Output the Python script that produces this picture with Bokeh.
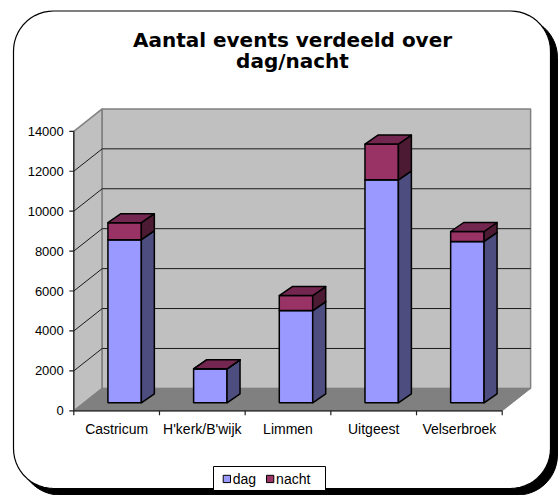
import numpy as np
from bokeh.plotting import figure
from bokeh.models import Range1d
from bokeh.embed import file_html
from bokeh.resources import INLINE
from bokeh.core.properties import value

# ---------------- data ----------------
categories = ["Castricum", "H'kerk/B'wijk", "Limmen", "Uitgeest", "Velserbroek"]
series_names = ["dag", "nacht"]
dag = [8170, 1700, 4620, 11170, 8080]
nacht = [850, 0, 750, 1790, 500]
y_ticks = [0, 2000, 4000, 6000, 8000, 10000, 12000, 14000]
y_tick_labels = ["0", "2000", "4000", "6000", "8000", "10000", "12000", "14000"]
title_lines = ["Aantal events verdeeld over", "dag/nacht"]

# ---------------- styles ----------------
front_colors = ["#9999FF", "#993366"]
side_colors = ["#4D4D80", "#4D1A33"]
top_colors = ["#7A7ACC", "#73264F"]

W, H = 559, 495
Y_MAX = y_ticks[-1]
N = len(categories)

# pixel layout of the plotting box (canvas pixels)
X0, CW = 73.3, 85.68           # front x-axis start, px per category
Y0, PY = 410.3, 279.5 / Y_MAX  # front zero line, px per unit


def cx(px):
    return (px - X0) / CW


def cy(py):
    return (Y0 - py) / PY


def lx(px):
    return px / CW


def ly(py):
    return py / PY


WDX, WDY = lx(28.4), ly(22.4)    # wall depth
BFX, BFY = lx(8.0), ly(8.0)      # bar front offset
BDX, BDY = lx(13.0), ly(9.0)     # bar depth
BW = 0.39                        # bar width in category units

p = figure(width=W, height=H,
           x_range=Range1d(cx(0), cx(W)), y_range=Range1d(cy(H), cy(0)),
           min_border=0, toolbar_location=None, output_backend="svg",
           x_axis_location=None, y_axis_location=None,
           outline_line_color=None, background_fill_color="white",
           border_fill_color="white")
p.grid.visible = False


def rrect(x0, y0, x1, y1, r, n=14):
    xs, ys = [], []
    for (ccx, ccy, a0, a1) in [(x0 + r, y0 + r, np.pi, 1.5 * np.pi),
                               (x1 - r, y0 + r, 1.5 * np.pi, 2 * np.pi),
                               (x1 - r, y1 - r, 0, 0.5 * np.pi),
                               (x0 + r, y1 - r, 0.5 * np.pi, np.pi)]:
        a = np.linspace(a0, a1, n)
        xs += list(ccx + r * np.cos(a))
        ys += list(ccy + r * np.sin(a))
    return [cx(v) for v in xs], [cy(v) for v in ys]


# frame with shadow
sx, sy = rrect(19.5, 17, 557, 494.5, 40)
p.patch(sx, sy, fill_color="black", line_color="black")
fx, fy = rrect(13, 10.5, 550, 488, 40)
p.patch(fx, fy, fill_color="white", line_color="black", line_width=1.2)

# walls and floor
p.patch([0, WDX, WDX, 0], [0, WDY, Y_MAX + WDY, Y_MAX],
        fill_color="#C0C0C0", line_color="#808080", line_width=1.5)
p.patch([WDX, N + WDX, N + WDX, WDX], [WDY, WDY, Y_MAX + WDY, Y_MAX + WDY],
        fill_color="#C0C0C0", line_color="#808080", line_width=1.5)
p.patch([0, N, N + WDX, WDX], [0, 0, WDY, WDY],
        fill_color="#808080", line_color="#808080", line_width=1)

grid_vals = [v for v in y_ticks if 0 < v < Y_MAX]
p.segment(x0=[WDX] * len(grid_vals), y0=[v + WDY for v in grid_vals],
          x1=[N + WDX] * len(grid_vals), y1=[v + WDY for v in grid_vals],
          line_color="#1A1A1A", line_width=1)
p.segment(x0=[0] * len(grid_vals), y0=grid_vals,
          x1=[WDX] * len(grid_vals), y1=[v + WDY for v in grid_vals],
          line_color="#1A1A1A", line_width=1)

# axes
p.segment(x0=[0], y0=[0], x1=[0], y1=[Y_MAX], line_color="#202020", line_width=1.2)
p.segment(x0=[-lx(4.5)] * len(y_ticks), y0=y_ticks, x1=[0] * len(y_ticks), y1=y_ticks,
          line_color="#202020", line_width=1.2)
p.segment(x0=[0], y0=[0], x1=[N], y1=[0], line_color="#202020", line_width=1.2)
p.segment(x0=list(range(N + 1)), y0=[0] * (N + 1), x1=list(range(N + 1)),
          y1=[-ly(4.5)] * (N + 1), line_color="#202020", line_width=1.2)

p.text(x=[-lx(10)] * len(y_ticks), y=y_ticks, text=y_tick_labels,
       text_align="right", text_baseline="middle",
       text_font=value("Liberation Sans"), text_font_size="13px", text_color="black")

p.text(x=[i + 0.5 for i in range(N)], y=[cy(428.6)] * N, text=categories,
       text_align="center", text_baseline="middle",
       text_font=value("Liberation Sans"), text_font_size="14px", text_color="black")

# bars
series = [dag, nacht]
base = [0.0] * N
for s, vals in enumerate(series):
    fl, fr, fb, ft = [], [], [], []
    side_xs, side_ys, top_xs, top_ys = [], [], [], []
    for i, v in enumerate(vals):
        y0 = base[i] + BFY
        y1 = base[i] + v + BFY
        left = i + 0.5 - BW / 2 + BFX
        right = i + 0.5 + BW / 2 + BFX
        fl.append(left); fr.append(right); fb.append(y0); ft.append(y1)
        side_xs.append([right, right + BDX, right + BDX, right])
        side_ys.append([y0, y0 + BDY, y1 + BDY, y1])
        top_xs.append([left, right, right + BDX, left + BDX])
        top_ys.append([y1, y1, y1 + BDY, y1 + BDY])
        base[i] += v
    p.quad(left=fl, right=fr, bottom=fb, top=ft, fill_color=front_colors[s],
           line_color="black", line_width=1.5)
    p.patches(side_xs, side_ys, fill_color=side_colors[s], line_color="black",
              line_width=1.5, line_join="round")
    p.patches(top_xs, top_ys, fill_color=top_colors[s], line_color="black",
              line_width=1.5, line_join="round")

# title
p.text(x=[cx(292)] * 2, y=[cy(39.8), cy(60.6)], text=title_lines,
       text_align="center", text_baseline="middle",
       text_font=value("DejaVu Sans"), text_font_style="bold",
       text_font_size="20px", text_color="black")

# legend
LB = (213, 325, 466, 490)
p.quad(left=[cx(LB[0])], right=[cx(LB[1])], top=[cy(LB[2])], bottom=[cy(LB[3])],
       fill_color="white", line_color="black", line_width=1)
item_x = [222.7, 266.0]
sq = 7.3
p.quad(left=[cx(x) for x in item_x], right=[cx(x + sq) for x in item_x],
       top=[cy(474.8)] * 2, bottom=[cy(474.8 + sq)] * 2,
       fill_color=front_colors, line_color="black", line_width=1)
p.text(x=[cx(x + sq + 2.3) for x in item_x], y=[cy(478.8)] * 2, text=series_names,
       text_align="left", text_baseline="middle",
       text_font=value("Liberation Sans"), text_font_size="14px", text_color="black")

open("out.html", "w").write(file_html(p, INLINE))
